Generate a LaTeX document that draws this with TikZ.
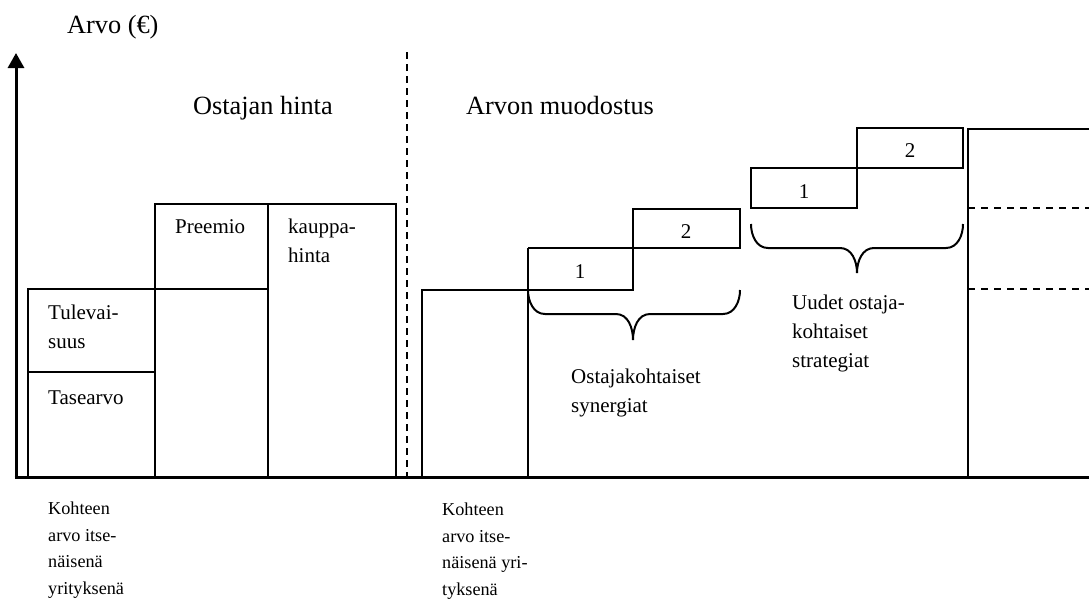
\documentclass[tikz,border=0pt]{standalone}
\usepackage{fontspec}
\setmainfont{Liberation Serif}
\usetikzlibrary{arrows.meta}
\begin{document}
\begin{tikzpicture}[x=1pt,y=-1pt,
  box/.style={line width=2pt},
  axisline/.style={line width=3pt},
  sep/.style={line width=1.8pt, dash pattern=on 7pt off 5pt},
  lvl/.style={line width=1.6pt, dash pattern=on 7pt off 6pt},
  big/.style={font=\fontsize{26.3}{30}\selectfont, anchor=base west, inner sep=0pt},
  mid/.style={font=\fontsize{21}{29}\selectfont, anchor=base west, inner sep=0pt, align=left},
  num/.style={font=\fontsize{21}{29}\selectfont, anchor=base, inner sep=0pt},
  low/.style={font=\fontsize{18.2}{26.5}\selectfont, anchor=base west, inner sep=0pt, align=left},
  brace/.style={line width=2pt}]
\useasboundingbox (0,0) rectangle (1089,598);
% axes
\coordinate (O) at (16,477);
\coordinate (Ytop) at (16,53);
\coordinate (Xend) at (1089,477);
\draw[axisline,-{Triangle[width=16pt,length=15pt]}] (O) -- (Ytop);
\draw[axisline] (14.5,477) -- (Xend);
% left: stand-alone value
\draw[box] (28,477) rectangle (155,372);
\draw[box] (28,372) rectangle (155,289);
% premium column
\draw[box] (155,477) rectangle (268,289);
\draw[box] (155,289) rectangle (268,204);
% purchase price
\draw[box] (268,477) rectangle (396,204);
% separator
\coordinate (Stop) at (407,52);
\coordinate (Sbot) at (407,477);
\draw[sep] (Stop) -- (Sbot);
% right: stand-alone
\draw[box] (422,477) |- (528,290);
\draw[box] (528,477) -- (528,248);
% synergy steps
\draw[box] (528,290) -- (633,290) -- (633,248) -- (528,248);
\draw[box] (633,248) rectangle (740,209);
% strategy steps
\draw[box] (751,208) rectangle (857,168);
\draw[box] (857,168) rectangle (963,128);
% final column
\draw[box] (968,477) |- (1090,129);
\draw[lvl] (968,208) -- (1089,208);
\draw[lvl] (968,289) -- (1089,289);
% braces
\draw[brace] (528,290) to[out=-90,in=180] (545,314) -- (616,314) to[out=0,in=90] (633,340)
  to[out=90,in=180] (650,314) -- (723,314) to[out=0,in=-90] (740,290);
\draw[brace] (751,224) to[out=-90,in=180] (768,248) -- (840,248) to[out=0,in=90] (857,273)
  to[out=90,in=180] (874,248) -- (946,248) to[out=0,in=-90] (963,224);
% texts (multi-line nodes are anchored at the baseline of their last line)
\node[big] (tarvo) at (67,33) {Arvo (€)};
\node[big] (tost) at (193,114) {Ostajan hinta};
\node[big] (tmuod) at (466,114) {Arvon muodostus};
\node[mid] (tpre) at (175,233) {Preemio};
\node[mid] (tkau) at (288,262) {kauppa-\\hinta};
\node[mid] (ttul) at (48,348) {Tulevai-\\suus};
\node[mid] (ttas) at (48,404) {Tasearvo};
\node[num] (n1a) at (580,278) {1};
\node[num] (n2a) at (686,238) {2};
\node[num] (n1b) at (804,198) {1};
\node[num] (n2b) at (910,157) {2};
\node[mid] (tsyn) at (571,412) {Ostajakohtaiset\\synergiat};
\node[mid] (tstr) at (792,367) {Uudet ostaja-\\kohtaiset\\strategiat};
\node[low] (tk1) at (48,594) {Kohteen\\arvo itse-\\näisenä\\yrityksenä};
\node[low] (tk2) at (442,595) {Kohteen\\arvo itse-\\näisenä yri-\\tyksenä};
\end{tikzpicture}
\end{document}
